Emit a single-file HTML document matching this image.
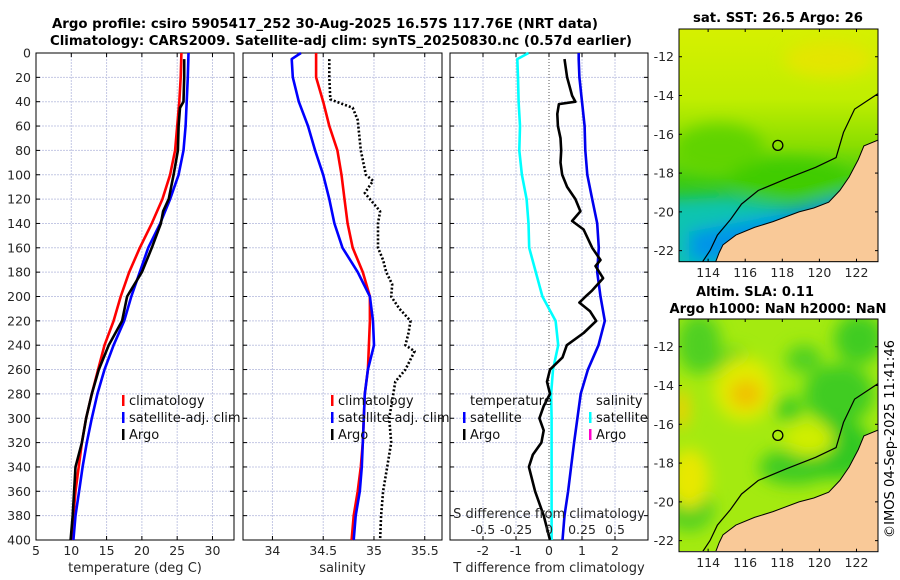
<!DOCTYPE html>
<html><head><meta charset="utf-8"><style>
html,body{margin:0;padding:0;background:#fff;}
svg{display:block;font-family:"DejaVu Sans","Liberation Sans",sans-serif;}
</style></head><body>
<svg id="chart" width="900" height="580" viewBox="0 0 900 580" xmlns="http://www.w3.org/2000/svg">
<defs>
<filter id="blur" x="-20%" y="-20%" width="140%" height="140%"><feGaussianBlur stdDeviation="8"/></filter>
<clipPath id="clipMap1"><rect x="679" y="29" width="199" height="233"/></clipPath>
<clipPath id="clipMap2"><rect x="679" y="319" width="199" height="232"/></clipPath>
<linearGradient id="sstGrad" x1="0" y1="0" x2="0" y2="1">
<stop offset="0" stop-color="#d6f000"/><stop offset="0.3" stop-color="#c0ee00"/><stop offset="0.5" stop-color="#8ade00"/><stop offset="0.65" stop-color="#40cc10"/><stop offset="0.78" stop-color="#20c040"/><stop offset="1" stop-color="#10c0a0"/>
</linearGradient>
</defs>
<g id="titles">
<text x="325" y="28" text-anchor="middle" font-weight="bold" font-size="13" textLength="546" lengthAdjust="spacingAndGlyphs">Argo profile: csiro 5905417_252 30-Aug-2025 16.57S 117.76E (NRT data)</text>
<text x="341" y="45" text-anchor="middle" font-weight="bold" font-size="13" textLength="582" lengthAdjust="spacingAndGlyphs">Climatology: CARS2009. Satellite-adj clim: synTS_20250830.nc (0.57d earlier)</text>
<text x="778" y="22" text-anchor="middle" font-weight="bold" font-size="13" textLength="170" lengthAdjust="spacingAndGlyphs">sat. SST: 26.5 Argo: 26</text>
<text x="755" y="296" text-anchor="middle" font-weight="bold" font-size="13" textLength="118" lengthAdjust="spacingAndGlyphs">Altim. SLA: 0.11</text>
<text x="778" y="313" text-anchor="middle" font-weight="bold" font-size="13" textLength="217" lengthAdjust="spacingAndGlyphs">Argo h1000: NaN h2000: NaN</text>
<text transform="translate(894,439) rotate(-90)" text-anchor="middle" font-size="13" textLength="198" lengthAdjust="spacingAndGlyphs">©IMOS 04-Sep-2025 11:41:46</text>
</g>
<g id="plots"></g>
<g id="maps"></g>
</svg>
<script>
// ---- data (depth in m) ----
const depthsClim = [0,20,40,60,80,100,120,140,160,180,200,220,240,260,280,300,320,340,360,380,400];
const tempClim = [25.6,25.5,25.3,25.0,24.7,24.0,22.9,21.4,19.7,18.2,17.0,16.0,14.7,13.8,12.9,12.1,11.5,11.05,10.6,10.3,10.05];
const tempSat  = [26.6,26.5,26.35,26.2,25.9,25.2,24.0,22.6,20.9,19.7,18.5,17.5,16.0,14.7,13.7,12.9,12.2,11.6,11.1,10.6,10.3];
const depthsArgoT = [5,20,40,45,60,80,100,120,130,140,160,180,200,220,240,260,280,300,320,340,360,380,400];
const tempArgo = [26.0,26.0,25.9,25.4,25.2,25.1,24.5,23.8,23.0,22.7,21.4,20.0,17.9,17.2,15.3,13.9,12.9,12.1,11.5,10.6,10.4,10.2,9.9];
const depthsSalt = [0,5,20,40,60,80,100,120,140,160,180,200,220,240,260,280,300,320,340,360,380,400];
const saltClim = [34.43,34.43,34.43,34.50,34.56,34.64,34.68,34.71,34.74,34.79,34.89,34.96,34.96,34.95,34.94,34.91,34.90,34.89,34.87,34.84,34.80,34.78];
const saltSat  = [34.28,34.19,34.20,34.26,34.35,34.42,34.50,34.56,34.61,34.69,34.84,34.96,34.99,35.00,34.94,34.91,34.90,34.89,34.88,34.86,34.82,34.80];
const depthsArgoS = [5,20,38,40,45,55,80,100,105,115,120,130,140,160,170,180,190,200,210,220,230,240,245,260,270,280,300,320,340,360,380,400];
const saltArgo = [34.56,34.56,34.57,34.63,34.79,34.84,34.87,34.92,34.99,34.91,34.96,35.06,35.04,35.04,35.09,35.12,35.18,35.17,35.25,35.36,35.34,35.31,35.40,35.31,35.21,35.19,35.15,35.17,35.13,35.09,35.07,35.06];
const depthsDiff = [0,5,20,40,60,80,100,120,140,160,180,200,220,240,260,280,300,320,340,360,380,400];
const saltDiffSat = [-0.155,-0.24,-0.235,-0.23,-0.22,-0.225,-0.205,-0.17,-0.155,-0.15,-0.10,-0.05,0.05,0.07,0.03,0.016,0.02,0.02,0.02,0.02,0.02,0.02];
const tempDiffSat = [0.9,0.9,0.92,1.0,1.08,1.1,1.16,1.31,1.46,1.51,1.46,1.56,1.69,1.50,1.18,0.96,0.86,0.76,0.67,0.58,0.47,0.41];
const depthsArgoDiff = [5,20,35,40,42,50,60,70,80,90,100,110,120,130,138,145,160,170,175,185,195,200,205,212,220,230,240,250,260,270,280,290,300,310,320,330,340,360,380,400];
const tempDiffArgo = [0.47,0.55,0.70,0.80,0.30,0.25,0.27,0.35,0.37,0.35,0.40,0.55,0.80,0.95,0.70,1.05,1.31,1.56,1.41,1.64,1.31,1.11,0.92,1.24,1.43,1.05,0.54,0.41,0.03,-0.06,0.03,-0.16,-0.29,-0.16,-0.23,-0.49,-0.61,-0.42,-0.16,0.03];
const depthTicks = [0,20,40,60,80,100,120,140,160,180,200,220,240,260,280,300,320,340,360,380,400];
const tempTicks = [5,10,15,20,25,30];
const saltTicks = [34,34.5,35,35.5];
const tdiffTicks = [-2,-1,0,1,2];
const sdiffTicks = [-0.5,-0.25,0,0.25,0.5];
const sdiffTickLabels = ['-0.5','-0.25','0','0.25','0.5'];
const latTicks = [-12,-14,-16,-18,-20,-22];
const lonTicks = [114,116,118,120,122];

const NS='http://www.w3.org/2000/svg';
function mk(tag,attrs,parent){const e=document.createElementNS(NS,tag);for(const k in attrs)e.setAttribute(k,attrs[k]);parent.appendChild(e);return e;}
const plots=document.getElementById('plots');
const TOP=53,BOT=540;
const yD=d=>TOP+d*(BOT-TOP)/400;
function xScale(min,max,left,right){return v=>left+(v-min)*(right-left)/(max-min);}

const panels=[
 {name:'temperature',left:36,right:234,min:5,max:33.05,ticks:tempTicks,labels:tempTicks.map(String),xlabel:'temperature (deg C)'},
 {name:'salinity',left:243,right:442,min:33.71,max:35.67,ticks:saltTicks,labels:saltTicks.map(String),xlabel:'salinity'},
 {name:'difference',left:450,right:648,min:-3,max:3,ticks:tdiffTicks,labels:tdiffTicks.map(String),xlabel:'T difference from climatology'}
];
panels.forEach((p,pi)=>{
 p.x=xScale(p.min,p.max,p.left,p.right);
 const g=mk('g',{},plots);
 
 
 depthTicks.forEach(d=>{const l=mk('line',{x1:p.left,x2:p.right,y1:yD(d),y2:yD(d),stroke:'#c4c8e4','stroke-width':1,'stroke-dasharray':'2,1'},g);
  
  });
 p.ticks.forEach((t,i)=>{
  const dotted=(pi===2&&t===0);
  const l=mk('line',{x1:p.x(t),x2:p.x(t),y1:TOP,y2:BOT,stroke:dotted?'#555':'#c4c8e4','stroke-width':1,'stroke-dasharray':dotted?'1,2':'2,1'},g);
  
  
  mk('line',{x1:p.x(t),x2:p.x(t),y1:BOT,y2:BOT-4,stroke:'#000'},g);
  mk('line',{x1:p.x(t),x2:p.x(t),y1:TOP,y2:TOP+4,stroke:'#000'},g);
  const tx=mk('text',{x:p.x(t),y:555,'text-anchor':'middle','font-size':12.5,fill:'#262626'},g);
  tx.textContent=p.labels[i];
  
  
 });
 depthTicks.forEach(d=>{
  mk('line',{x1:p.left,x2:p.left+4,y1:yD(d),y2:yD(d),stroke:'#000'},g);
  mk('line',{x1:p.right,x2:p.right-4,y1:yD(d),y2:yD(d),stroke:'#000'},g);
  if(pi===0){const tx=mk('text',{x:31,y:yD(d)+4.5,'text-anchor':'end','font-size':12.5,fill:'#262626'},g);tx.textContent=String(d);
   
   }
 });
 const fr=mk('rect',{x:p.left,y:TOP,width:p.right-p.left,height:BOT-TOP,fill:'none',stroke:'#000','stroke-width':1},g);
 
 
 const xl=mk('text',{x:(p.left+p.right)/2,y:572,'text-anchor':'middle','font-size':13,fill:'#262626'},g);
 xl.textContent=p.xlabel;
 
 
 p.g=g;
});
function line(p,vals,depths,color,name,extra){
 const pts=vals.map((v,i)=>p.x(v).toFixed(1)+','+yD(depths[i]).toFixed(1)).join(' ');
 const l=mk('polyline',Object.assign({points:pts,fill:'none',stroke:color,'stroke-width':2.6,'stroke-linejoin':'round'},extra||{}),p.g);
 
 
}
line(panels[0],tempClim,depthsClim,'#ff0000','temp-climatology-line');
line(panels[0],tempSat,depthsClim,'#0000ff','temp-satellite-line');
line(panels[0],tempArgo,depthsArgoT,'#000000','temp-argo-line');
line(panels[1],saltClim,depthsSalt,'#ff0000','salinity-climatology-line');
line(panels[1],saltSat,depthsSalt,'#0000ff','salinity-satellite-line');
line(panels[1],saltArgo,depthsArgoS,'#000000','salinity-argo-line',{'stroke-dasharray':'2,2'});
line(panels[2],saltDiffSat.map(v=>v*4),depthsDiff,'#00ffff','salinity-diff-satellite-line');
line(panels[2],tempDiffSat,depthsDiff,'#0000ee','temp-diff-satellite-line');
line(panels[2],tempDiffArgo,depthsArgoDiff,'#000000','temp-diff-argo-line');

const p3=panels[2];
const sl=mk('text',{x:549,y:518,'text-anchor':'middle','font-size':13,fill:'#262626'},p3.g);
sl.textContent='S difference from climatology';


sdiffTicks.forEach((t,i)=>{const tx=mk('text',{x:p3.x(t*4),y:534,'text-anchor':'middle','font-size':12.5,fill:'#262626'},p3.g);tx.textContent=sdiffTickLabels[i];
 
 });

function legend(g,x,y,color,label){
 const m=mk('rect',{x:x,y:y-10,width:2.5,height:11,fill:color},g);
 
 
 const t=mk('text',{x:x+7,y:y,'font-size':13,fill:'#111'},g);t.textContent=label;
 
 
}
[[122,0],[331,1]].forEach(([lx,pi])=>{
 const g=panels[pi].g;
 legend(g,lx,405,'#ff0000','climatology');
 legend(g,lx,422,'#0000ff','satellite-adj. clim');
 legend(g,lx,439,'#000000','Argo');
});
{
 const g=p3.g;
 const t1=mk('text',{x:470,y:405,'font-size':13,fill:'#111'},g);t1.textContent='temperature';
 
 
 legend(g,463,422,'#0000ff','satellite');
 legend(g,463,439,'#000000','Argo');
 const t2=mk('text',{x:596,y:405,'font-size':13,fill:'#111'},g);t2.textContent='salinity';
 
 
 legend(g,589,422,'#00ffff','satellite');
 legend(g,589,439,'#ff00cc','Argo');
}

// ---- maps ----
const maps=document.getElementById('maps');
const LON0=112.43,LON1=123.16,LAT0=-10.57,LAT1=-22.57;
const coastLL=[[123.16,-16.3],[122.4,-16.6],[122.1,-17.3],[121.6,-18.2],[121.1,-18.9],[120.5,-19.5],[119.7,-19.8],[118.9,-20.0],[117.5,-20.5],[116.5,-20.8],[115.5,-21.2],[114.8,-21.7],[114.6,-22.1],[114.4,-22.6]];
const isobathLL=[[123.16,-13.9],[121.9,-14.7],[121.3,-15.9],[120.9,-17.2],[119.8,-17.7],[118.2,-18.3],[116.7,-18.9],[115.8,-19.6],[115.2,-20.4],[114.5,-21.2],[114.1,-22.0],[113.7,-22.57]];
const floatLL=[117.76,-16.57];
function drawMap(top,name,colorize){
 const L=679,R=878,B=top+232.7;
 const xm=lon=>L+(lon-LON0)*(R-L)/(LON1-LON0);
 const ym=lat=>top+(lat-LAT0)*(B-top)/(LAT1-LAT0);
 const g=mk('g',{},maps);
 
 
 const cg=mk('g',{'clip-path':'url(#'+(top<100?'clipMap1':'clipMap2')+')'},g);
 colorize(cg,L,R,top,B);
 const coast=coastLL.map(([a,b])=>xm(a).toFixed(1)+','+ym(b).toFixed(1)).join(' ');
 const land=mk('polygon',{points:coast+' '+R+','+B,fill:'#f9c998',stroke:'#000','stroke-width':1},cg);
 
 
 const iso=mk('polyline',{points:isobathLL.map(([a,b])=>xm(a).toFixed(1)+','+ym(b).toFixed(1)).join(' '),fill:'none',stroke:'#000','stroke-width':1.2},cg);
 
 
 const c=mk('circle',{cx:xm(floatLL[0]),cy:ym(floatLL[1]),r:5,fill:'none',stroke:'#000','stroke-width':1.3},g);
 
 
 mk('rect',{x:L,y:top,width:R-L,height:B-top,fill:'none',stroke:'#000','stroke-width':1},g);
 latTicks.forEach(t=>{mk('line',{x1:L,x2:L+3,y1:ym(t),y2:ym(t),stroke:'#000'},g);mk('line',{x1:R,x2:R-3,y1:ym(t),y2:ym(t),stroke:'#000'},g);
  const tx=mk('text',{x:674,y:ym(t)+4.5,'text-anchor':'end','font-size':12.5,fill:'#262626'},g);tx.textContent=String(t);
  
  });
 lonTicks.forEach(t=>{mk('line',{x1:xm(t),x2:xm(t),y1:B,y2:B-3,stroke:'#000'},g);mk('line',{x1:xm(t),x2:xm(t),y1:top,y2:top+3,stroke:'#000'},g);
  const tx=mk('text',{x:xm(t),y:B+15.5,'text-anchor':'middle','font-size':12.5,fill:'#262626'},g);tx.textContent=String(t);
  
  });
}
drawMap(29,'sst-map',(cg,L,R,T,B)=>{
 mk('rect',{x:L,y:T,width:R-L,height:B-T,fill:'url(#sstGrad)'},cg);
 const b=mk('g',{filter:'url(#blur)'},cg);
 mk('polygon',{points:`${L-20},${T+172} ${L+50},${T+168} ${L+130},${T+182} ${L+160},${T+195} ${L+160},${B+20} ${L-20},${B+20}`,fill:'#10c4b0'},b);
 mk('polygon',{points:`${L+10},${B-30} ${L+90},${B-45} ${L+180},${B-70} ${L+180},${B} ${L+10},${B}`,fill:'#0094e8'},b);
 mk('ellipse',{cx:L+40,cy:T+120,rx:45,ry:25,fill:'#60d400'},b);
 mk('ellipse',{cx:L+110,cy:T+150,rx:60,ry:20,fill:'#40cc00'},b);
 mk('ellipse',{cx:L+150,cy:T+30,rx:45,ry:18,fill:'#e4e600'},b);
 mk('polygon',{points:`${L+120},${B-14} ${L+180},${B-40} ${L+140},${B-6} ${L+125},${B+4}`,fill:'#0030b0'},cg);
});
drawMap(319,'sla-map',(cg,L,R,T,B)=>{
 mk('rect',{x:L,y:T,width:R-L,height:B-T,fill:'#a4ea10'},cg);
 const b=mk('g',{filter:'url(#blur)'},cg);
 [[20,25,22,30,'#50d020'],[55,55,20,25,'#50d020'],[125,40,18,14,'#50d020'],[110,90,14,12,'#40cc20'],[160,75,35,30,'#40cc20'],[115,148,35,18,'#40cc20'],[10,190,25,22,'#50d020'],[180,20,25,25,'#40cc20'],[155,130,40,30,'#30c820']].forEach(([x,y,rx,ry,c])=>mk('ellipse',{cx:L+x,cy:T+y,rx:rx,ry:ry,fill:c},b));
 [[65,70,30,32,'#e0ec00'],[10,160,20,30,'#e8e800'],[130,120,25,18,'#d0ee00']].forEach(([x,y,rx,ry,c])=>mk('ellipse',{cx:L+x,cy:T+y,rx:rx,ry:ry,fill:c},b));
 mk('ellipse',{cx:L+67,cy:T+75,rx:16,ry:14,fill:'#f0c000'},b);
 mk('ellipse',{cx:L+2,cy:T+90,rx:8,ry:20,fill:'#f0d000'},b);
});
</script>
</body></html>
